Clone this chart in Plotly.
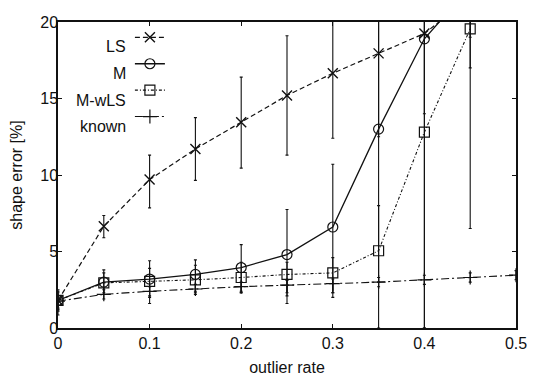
import plotly.graph_objects as go

# ---- data ----
x_rate = [0, 0.05, 0.1, 0.15, 0.2, 0.25, 0.3, 0.35, 0.4, 0.45]
x_known = [0, 0.05, 0.1, 0.15, 0.2, 0.25, 0.3, 0.35, 0.4, 0.45, 0.5]

ls_val = [1.8, 6.65, 9.7, 11.7, 13.45, 15.2, 16.65, 17.95, 19.25, 21.6]
ls_hi = [2.4, 7.35, 11.3, 13.75, 16.4, 19.1, 22.0, 23.5, 24.0, 25.0]
ls_lo = [1.2, 5.9, 7.85, 9.65, 10.45, 11.3, 12.4, 12.5, 14.0, 17.0]

m_val = [1.8, 3.0, 3.2, 3.5, 3.95, 4.8, 6.6, 13.0, 18.9, 22.3]
m_hi = [2.5, 3.8, 4.4, 4.45, 5.45, 7.75, 10.7, 24.0, 25.0, 26.0]
m_lo = [0.85, 2.2, 2.0, 2.4, 2.4, 2.1, 2.3, 0.0, 0.0, 19.0]

mw_val = [1.8, 2.95, 3.05, 3.15, 3.3, 3.5, 3.6, 5.05, 12.8, 19.55]
mw_hi = [2.3, 3.6, 3.9, 4.1, 4.3, 4.3, 4.6, 8.0, 20.5, 25.0]
mw_lo = [1.1, 2.3, 2.1, 2.3, 2.3, 1.6, 2.0, 3.0, 0.0, 6.5]

kn_val = [1.75, 2.2, 2.4, 2.55, 2.7, 2.8, 2.9, 3.0, 3.15, 3.3, 3.45]
kn_hi = [2.1, 2.5, 2.7, 2.85, 3.0, 3.1, 3.2, 3.3, 3.45, 3.6, 3.75]
kn_lo = [1.3, 1.9, 1.6, 2.2, 2.3, 2.3, 2.3, 2.7, 2.85, 3.0, 3.15]

series_names = ["LS", "M", "M-wLS", "known"]
x_ticks = [0, 0.1, 0.2, 0.3, 0.4, 0.5]
x_tick_text = ["0", "0.1", "0.2", "0.3", "0.4", "0.5"]
y_ticks = [0, 5, 10, 15, 20]

FONT = "Liberation Sans, Arial, sans-serif"
BLACK = "#111111"


def err(vals, hi, lo):
    return dict(type="data", symmetric=False,
                array=[h - v for h, v in zip(hi, vals)],
                arrayminus=[v - l for v, l in zip(vals, lo)],
                color=BLACK, thickness=1.1, width=1.5)


fig = go.Figure()
fig.add_trace(go.Scatter(
    x=x_rate, y=ls_val, name=series_names[0], mode="lines+markers",
    line=dict(color=BLACK, width=1.2, dash="5px,3px"),
    marker=dict(symbol="x-thin-open", size=10, color=BLACK, line=dict(width=1.4, color=BLACK)),
    error_y=err(ls_val, ls_hi, ls_lo)))
fig.add_trace(go.Scatter(
    x=x_rate, y=m_val, name=series_names[1], mode="lines+markers",
    line=dict(color=BLACK, width=1.3),
    marker=dict(symbol="circle-open", size=10, color=BLACK, line=dict(width=1.2, color=BLACK)),
    error_y=err(m_val, m_hi, m_lo)))
fig.add_trace(go.Scatter(
    x=x_rate, y=mw_val, name=series_names[2], mode="lines+markers",
    line=dict(color=BLACK, width=1.1, dash="3px,2px,1px,2px"),
    marker=dict(symbol="square-open", size=10, color=BLACK, line=dict(width=1.2, color=BLACK)),
    error_y=err(mw_val, mw_hi, mw_lo)))
fig.add_trace(go.Scatter(
    x=x_known, y=kn_val, name=series_names[3], mode="lines+markers",
    line=dict(color=BLACK, width=1.1, dash="8px,3px,2px,3px"),
    marker=dict(symbol="cross-thin-open", size=10, color=BLACK, line=dict(width=1.2, color=BLACK)),
    error_y=err(kn_val, kn_hi, kn_lo)))

axis_common = dict(showgrid=False, zeroline=False, showline=True, linecolor=BLACK,
                   linewidth=1.5, mirror="ticks", ticks="inside", ticklen=4,
                   tickcolor=BLACK, automargin=False,
                   tickfont=dict(family=FONT, size=16, color=BLACK))

fig.update_xaxes(range=[0, 0.5], tickvals=x_ticks, ticktext=x_tick_text,
                 title=dict(text="outlier rate", font=dict(family=FONT, size=16, color=BLACK), standoff=14),
                 **axis_common)
fig.update_yaxes(range=[0, 20], tickvals=y_ticks, ticklabelstandoff=-5,
                 title=dict(text="shape error [%]", font=dict(family=FONT, size=16, color=BLACK), standoff=18),
                 **axis_common)

# legend labels drawn to the left of the legend samples
label_y = [0.919, 0.831, 0.745, 0.658]
for name, yy in zip(series_names, label_y):
    fig.add_annotation(x=0.153, y=yy, xref="paper", yref="paper", text=name,
                       showarrow=False, xanchor="right", yanchor="middle",
                       font=dict(family=FONT, size=16, color=BLACK))

# the page body adds an 8px offset, so the figure is 8px smaller than the window
fig.update_layout(
    width=527, height=368,
    margin=dict(l=50, r=19, t=13, b=48),
    paper_bgcolor="white", plot_bgcolor="white",
    font=dict(family=FONT, size=16, color=BLACK),
    showlegend=True,
    legend=dict(x=0.157, y=1.006, xanchor="left", yanchor="top",
                bgcolor="rgba(0,0,0,0)", borderwidth=0,
                font=dict(family=FONT, size=18, color="rgba(0,0,0,0)")),
)

fig.write_html("out.html")
